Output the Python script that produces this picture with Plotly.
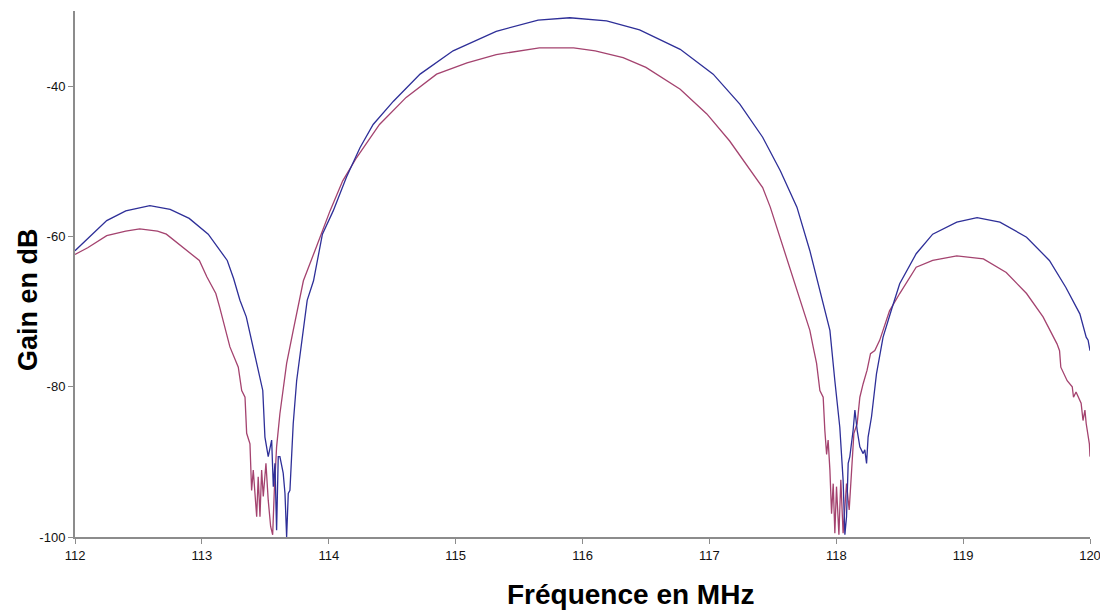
import plotly.graph_objects as go

# Blue series (frequency in MHz, gain in dB)
blue_freq = [112.00, 112.10, 112.25, 112.40, 112.59, 112.75, 112.90, 113.05, 113.20, 113.25,
             113.30, 113.35, 113.43, 113.48, 113.497, 113.523, 113.550, 113.563, 113.576, 113.589,
             113.602, 113.615, 113.641, 113.655, 113.668, 113.681, 113.694, 113.708, 113.720, 113.747,
             113.799, 113.83, 113.88, 113.95, 114.035, 114.14, 114.246, 114.35, 114.51, 114.72,
             114.98, 115.32, 115.65, 115.90, 116.19, 116.45, 116.77, 117.03, 117.24, 117.42,
             117.56, 117.69, 117.792, 117.871, 117.950, 117.989, 118.028, 118.054,
             118.068, 118.081, 118.094, 118.107, 118.133, 118.147, 118.165, 118.186, 118.212, 118.225,
             118.239, 118.251, 118.278, 118.317, 118.369, 118.44, 118.50, 118.63, 118.76, 118.95,
             119.11, 119.29, 119.50, 119.68, 119.81, 119.92, 119.97, 119.985, 120.00]
blue_gain = [-61.9, -60.3, -57.9, -56.6, -55.9, -56.4, -57.6, -59.7, -63.2, -65.6,
             -68.5, -70.7, -76.5, -80.5, -86.7, -89.3, -87.1, -93.3, -90.2, -99.1,
             -89.3, -89.3, -91.5, -94.2, -100.0, -94.2, -93.8, -89.3, -84.9, -79.2,
             -72.5, -68.5, -65.9, -59.7, -56.6, -52.1, -48.2, -45.1, -42.0, -38.4,
             -35.3, -32.7, -31.2, -30.9, -31.3, -32.5, -35.1, -38.4, -42.4, -46.8,
             -51.3, -56.1, -61.9, -67.2, -72.5, -79.2, -85.4, -92.4,
             -99.7, -97.3, -90.2, -89.3, -85.8, -83.1, -85.8, -88.0, -88.9, -88.4,
             -90.2, -86.7, -84.0, -78.3, -73.4, -69.5, -66.3, -62.3, -59.7, -58.1,
             -57.5, -58.1, -60.1, -63.2, -66.8, -70.3, -73.4, -73.8, -75.2]

# Red series
red_freq = [112.00, 112.10, 112.25, 112.40, 112.51, 112.65, 112.72, 112.85, 112.98, 113.04,
            113.11, 113.14, 113.221, 113.287, 113.314, 113.340, 113.353, 113.379, 113.392, 113.405,
            113.432, 113.444, 113.458, 113.471, 113.484, 113.505, 113.523, 113.542, 113.558, 113.571,
            113.589, 113.615, 113.641, 113.668, 113.720, 113.80, 113.90, 114.01, 114.11, 114.22,
            114.40, 114.61, 114.85, 115.09, 115.32, 115.66, 115.93, 116.10, 116.32, 116.50,
            116.77, 116.98, 117.16, 117.29, 117.42, 117.48, 117.60, 117.70, 117.792, 117.818, 117.845,
            117.871, 117.897, 117.910, 117.924, 117.936, 117.950, 117.963, 117.976, 117.989, 118.002,
            118.021, 118.036, 118.054, 118.081, 118.102, 118.121, 118.139, 118.165, 118.186, 118.212,
            118.243, 118.270, 118.304, 118.343, 118.42, 118.50, 118.63, 118.76, 118.95, 119.16,
            119.34, 119.50, 119.63, 119.74, 119.76, 119.77, 119.82, 119.86, 119.87, 119.89,
            119.93, 119.945, 119.96, 119.97, 119.995, 120.00]
red_gain = [-62.4, -61.5, -59.9, -59.3, -59.0, -59.3, -59.7, -61.5, -63.2, -65.4,
            -67.6, -69.4, -74.7, -77.4, -80.5, -81.4, -86.2, -87.6, -93.8, -91.1,
            -97.3, -92.0, -97.3, -91.1, -94.6, -90.2, -95.1, -98.6, -99.7, -93.8,
            -88.0, -83.6, -80.0, -76.9, -72.5, -65.9, -61.5, -56.6, -52.6, -49.5,
            -45.1, -41.5, -38.4, -36.9, -35.8, -34.9, -34.9, -35.3, -36.2, -37.5,
            -40.4, -43.7, -47.3, -50.4, -53.5, -56.1, -62.5, -67.9, -72.5, -74.7, -76.9,
            -80.5, -81.4, -85.8, -89.0, -87.1, -91.1, -96.9, -92.9, -99.5, -93.3,
            -99.7, -92.4, -99.5, -92.9, -96.4, -90.2, -86.2, -84.9, -81.4, -79.6,
            -77.8, -75.6, -75.2, -73.8, -69.9, -67.6, -64.1, -63.2, -62.6, -63.0,
            -64.8, -67.6, -70.7, -74.3, -75.2, -77.4, -79.2, -80.0, -81.4, -80.7,
            -82.2, -84.5, -83.1, -84.9, -87.6, -89.3]

x_ticks = [112, 113, 114, 115, 116, 117, 118, 119, 120]
y_ticks = [-40, -60, -80, -100]

fig = go.Figure()
fig.add_trace(go.Scatter(x=red_freq, y=red_gain, mode="lines",
                         line=dict(color="#A4436F", width=1.3), showlegend=False))
fig.add_trace(go.Scatter(x=blue_freq, y=blue_gain, mode="lines",
                         line=dict(color="#2E2F98", width=1.3), showlegend=False))

axis_common = dict(showgrid=False, zeroline=False, showline=True, linecolor="#8C8C8C",
                   linewidth=2, ticks="outside", ticklen=5, tickcolor="#8C8C8C", tickwidth=1,
                   tickfont=dict(family="Arial, Liberation Sans", size=13, color="#111111"))

# page body has an 8px default margin, so the figure is sized to fit inside it
fig.update_layout(
    width=1100, height=604,
    margin=dict(l=67, r=18, t=3, b=75),
    paper_bgcolor="white", plot_bgcolor="white",
    xaxis=dict(range=[112, 120], tickvals=x_ticks, ticktext=[str(v) for v in x_ticks], **axis_common),
    yaxis=dict(range=[-100, -30], tickvals=y_ticks, ticktext=[str(v) for v in y_ticks], **axis_common),
    annotations=[
        dict(text="<b>Fréquence en MHz</b>", xref="paper", yref="paper", x=0.547, y=-0.110,
             xanchor="center", yanchor="middle", showarrow=False,
             font=dict(family="Arial, Liberation Sans", size=28, color="#000000")),
        dict(text="<b>Gain en dB</b>", xref="paper", yref="paper", x=-0.0463, y=0.4506,
             xanchor="center", yanchor="middle", showarrow=False, textangle=-90,
             font=dict(family="Arial, Liberation Sans", size=27, color="#000000")),
    ],
)

fig.write_html("out.html")
